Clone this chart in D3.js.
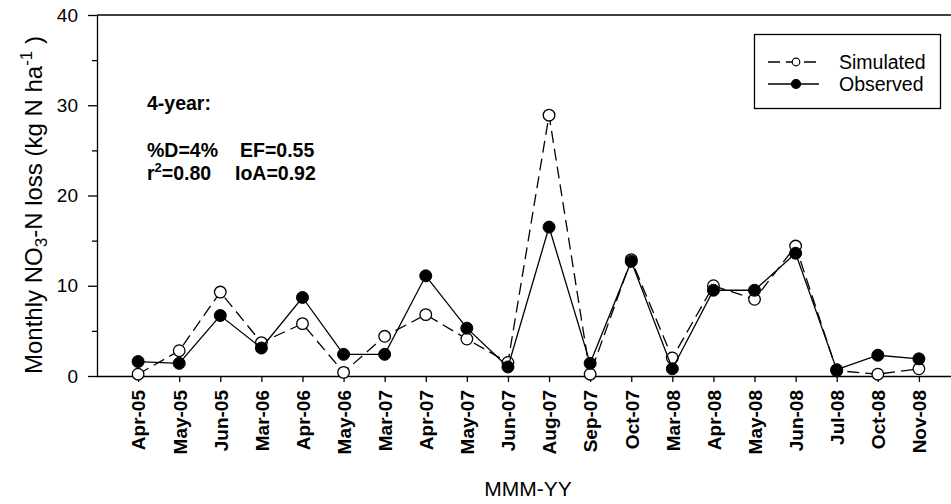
<!DOCTYPE html>
<html>
<head>
<meta charset="utf-8">
<script src="https://cdn.jsdelivr.net/npm/d3@7"></script>
<style>
  html, body { margin: 0; padding: 0; background: #fff; }
  svg { display: block; font-family: "Liberation Sans", Arial, sans-serif; }
</style>
</head>
<body>
<svg id="chart" width="951" height="504"></svg>
<script>
// Monthly NO3-N loss, simulated vs observed
const months = ["Apr-05","May-05","Jun-05","Mar-06","Apr-06","May-06","Mar-07","Apr-07","May-07","Jun-07",
                "Aug-07","Sep-07","Oct-07","Mar-08","Apr-08","May-08","Jun-08","Jul-08","Oct-08","Nov-08"];
const simulated = [0.2, 2.8, 9.3, 3.7, 5.8, 0.4, 4.4, 6.8, 4.1, 1.5,
                   28.9, 0.2, 12.9, 2.0, 10.0, 8.5, 14.4, 0.6, 0.2, 0.8];
const observed  = [1.6, 1.4, 6.7, 3.1, 8.7, 2.4, 2.4, 11.1, 5.3, 1.0,
                   16.5, 1.4, 12.7, 0.8, 9.5, 9.5, 13.6, 0.7, 2.3, 1.9];
const yMajorTicks = [0, 10, 20, 30, 40];
const yMinorTicks = [5, 15, 25, 35];
const seriesNames = ["Simulated", "Observed"];

const svg = d3.select("#chart");
const plotLeft = 97, plotRight = 960, plotTop = 15, plotBottom = 376;

const x = d3.scalePoint().domain(months).range([plotLeft, plotRight]).padding(1);
const y = d3.scaleLinear().domain([0, 40]).range([plotBottom, plotTop]);

const ink = "#000";

// frame: top edge
svg.append("line")
  .attr("x1", plotLeft).attr("x2", 951).attr("y1", plotTop).attr("y2", plotTop)
  .attr("stroke", ink).attr("stroke-width", 1.3);

// y axis
const yAxis = svg.append("g").attr("transform", `translate(${plotLeft},0)`)
  .call(d3.axisLeft(y).tickValues(yMajorTicks).tickSize(9).tickPadding(10).tickSizeOuter(0));
svg.append("g").attr("transform", `translate(${plotLeft},0)`)
  .call(d3.axisLeft(y).tickValues(yMinorTicks).tickSize(5).tickFormat("").tickSizeOuter(0))
  .select(".domain").remove();
yAxis.selectAll("text").attr("font-size", 19).attr("font-family", "Liberation Sans, Arial, sans-serif").attr("fill", ink);

// x axis
const xAxis = svg.append("g").attr("transform", `translate(0,${plotBottom})`)
  .call(d3.axisBottom(x).tickSize(6).tickSizeOuter(0));
xAxis.select(".domain").attr("d", `M${plotLeft},0.5H951`);
xAxis.selectAll("text")
  .attr("transform", "rotate(-90)")
  .attr("text-anchor", "end")
  .attr("x", -14).attr("y", 0).attr("dy", "0.36em")
  .attr("font-size", 19).attr("font-weight", "bold")
  .attr("font-family", "Liberation Sans, Arial, sans-serif").attr("fill", ink);

svg.selectAll(".domain, .tick line").attr("stroke", ink).attr("stroke-width", 1.3);

// axis titles
svg.append("text")
  .attr("x", 528).attr("y", 496).attr("text-anchor", "middle")
  .attr("font-size", 21).attr("fill", ink).text("MMM-YY");

const yl = svg.append("text")
  .attr("transform", "translate(42,205) rotate(-90)")
  .attr("text-anchor", "middle").attr("font-size", 24).attr("fill", ink);
yl.append("tspan").text("Monthly NO");
yl.append("tspan").attr("font-size", 17).attr("dy", 5).text("3");
yl.append("tspan").attr("dy", -5).text("-N loss (kg N ha");
yl.append("tspan").attr("font-size", 17).attr("dy", -10).text("-1");
yl.append("tspan").attr("dy", 10).text(" )");

// series lines and markers
const line = d3.line().x((d, i) => x(months[i])).y(d => y(d));

svg.append("path").datum(simulated)
  .attr("d", line).attr("fill", "none").attr("stroke", ink)
  .attr("stroke-width", 1.3).attr("stroke-dasharray", "12,6");
svg.append("g").selectAll("circle").data(simulated).join("circle")
  .attr("cx", (d, i) => x(months[i])).attr("cy", d => y(d)).attr("r", 5.8)
  .attr("fill", "#fff").attr("stroke", ink).attr("stroke-width", 1.3);

svg.append("path").datum(observed)
  .attr("d", line).attr("fill", "none").attr("stroke", ink).attr("stroke-width", 1.3);
svg.append("g").selectAll("circle").data(observed).join("circle")
  .attr("cx", (d, i) => x(months[i])).attr("cy", d => y(d)).attr("r", 6)
  .attr("fill", ink).attr("stroke", ink).attr("stroke-width", 1);

// statistics annotation
const stat = svg.append("g").attr("font-weight", "bold").attr("font-size", 19.5).attr("fill", ink);
stat.append("text").attr("x", 147).attr("y", 110).text("4-year:");
stat.append("text").attr("x", 147).attr("y", 157).text("%D=4%");
stat.append("text").attr("x", 240).attr("y", 157).text("EF=0.55");
const r2 = stat.append("text").attr("x", 147).attr("y", 180);
r2.append("tspan").text("r");
r2.append("tspan").attr("font-size", 13).attr("dy", -8).text("2");
r2.append("tspan").attr("dy", 8).text("=0.80");
stat.append("text").attr("x", 235).attr("y", 180).text("IoA=0.92");

// legend
const lg = svg.append("g");
lg.append("rect").attr("x", 754.5).attr("y", 34.5).attr("width", 186).attr("height", 74)
  .attr("fill", "#fff").attr("stroke", ink).attr("stroke-width", 1.3);
const rows = [
  { name: seriesNames[0], cy: 62, dash: "12,6", fill: "#fff", r: 3.8 },
  { name: seriesNames[1], cy: 84, dash: null, fill: ink, r: 4.5 }
];
rows.forEach(r => {
  lg.append("line").attr("x1", 768).attr("x2", 819).attr("y1", r.cy).attr("y2", r.cy)
    .attr("stroke", ink).attr("stroke-width", 1.3).attr("stroke-dasharray", r.dash);
  lg.append("circle").attr("cx", 796).attr("cy", r.cy).attr("r", r.r)
    .attr("fill", r.fill).attr("stroke", ink).attr("stroke-width", 1.2);
  lg.append("text").attr("x", 839).attr("y", r.cy).attr("dy", "0.35em")
    .attr("font-size", 19.5).attr("fill", ink).text(r.name);
});
</script>
</body>
</html>
